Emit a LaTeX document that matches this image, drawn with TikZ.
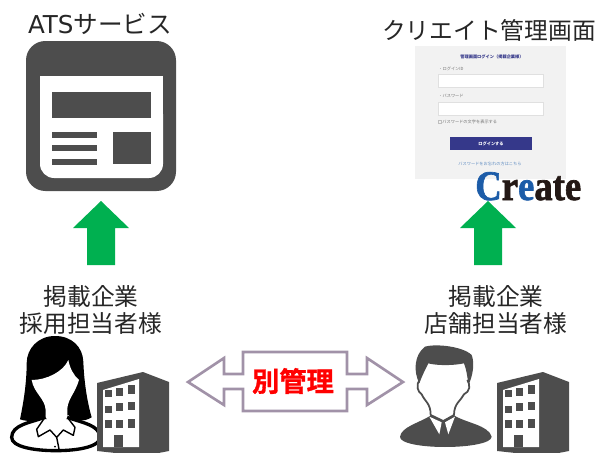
\documentclass[tikz,border=0pt]{standalone}
\usepackage{fontspec}
\setmainfont{Noto Sans CJK JP}
\newfontfamily\latinfont{DejaVu Sans}
\newfontfamily\logofont[UprightFont=* Bold, FakeBold=1.6]{Liberation Serif}
\newfontfamily\heavyfont[UprightFont=* Bold, FakeBold=1.2]{Noto Sans CJK JP}
\usepackage{tikz}
\definecolor{icongray}{HTML}{4D4D4D}
\definecolor{arrowgreen}{HTML}{00B050}
\definecolor{outlinegray}{HTML}{A192A8}
\definecolor{panelgray}{HTML}{F2F2F2}
\definecolor{loginblue}{HTML}{35388A}
\definecolor{logoblue}{HTML}{1C5CA8}
\definecolor{logodark}{HTML}{231815}
\newcommand{\tinysize}[1]{\fontsize{#1}{#1}\selectfont}
\tikzset{
  labeltext/.style={font=\fontsize{13.5}{16}\selectfont, text=black!85, inner sep=0pt},
  logintext/.style={font=\tinysize{2.4}, text=black!55, inner sep=0pt, anchor=west},
  inputbox/.style={draw=black!12, line width=0.5pt, fill=white},
  bigarrow/.style={fill=arrowgreen, draw=none},
  building/.pic={
    \fill[icongray] (97,383) -- (143,372) -- (169,382) -- (169,451) -- (143,456) -- (97,451) -- cycle;
    \fill[white] (103,390) -- (139,379) -- (139,447) -- (103,447) -- cycle;
    \foreach \wx/\wy/\wh in {105/390/7, 116/388/8, 128/385/9, 105/406/7, 116/403/8, 128/402/8, 105/420/8, 116/420/8, 128/419/9}
      \fill[icongray] (\wx,\wy) rectangle ++(6.5,\wh);
    \fill[icongray] (114,435) rectangle (123,447);
  }
}
\begin{document}
\begin{tikzpicture}[x=0.02cm, y=-0.02cm]
  \useasboundingbox (0,0) rectangle (599,453);

  \node[labeltext, font=\fontsize{14}{16}\selectfont] (atslabel) at (100,24) {{\latinfont ATS}サービス};
  \node[labeltext] (createlabel) at (489,30) {クリエイト管理画面};
  \node[labeltext, align=center] (leftlabel) at (91,310) {掲載企業\\[-1pt]採用担当者様};
  \node[labeltext, align=center] (rightlabel) at (496,310) {掲載企業\\[-1pt]店舗担当者様};

  \begin{scope}
    \fill[icongray, rounded corners=11pt] (26,41) rectangle (176,191);
    \fill[white, rounded corners=8pt] (40,100) -- (40,178) -- (163,178) -- (163,100) -- cycle;
    \fill[white] (40,76) rectangle (163,120);
    \fill[icongray] (52,92) rectangle (151,118);
    \foreach \ly in {132,145,159}
      \fill[icongray] (52,\ly) rectangle (97,\ly+5.5);
    \fill[icongray] (113,132) rectangle (151,164);
  \end{scope}

  \begin{scope}
    \fill[panelgray] (415,46) rectangle (566,179);
    \node[logintext, anchor=center, text=loginblue] (logintitle) at (492,57) {\bfseries 管理画面ログイン（掲載企業様）};
    \node[logintext] (loginid) at (438,69) {・ログインID};
    \draw[inputbox] (438,74) rectangle (543,87);
    \node[logintext] (loginpass) at (438,96) {・パスワード};
    \draw[inputbox] (438,102) rectangle (543,115);
    \draw[black!25, line width=0.2pt] (438,120) rectangle (441,123);
    \node[logintext] (loginshow) at (442,121.5) {パスワードの文字を表示する};
    \fill[loginblue] (450,137) rectangle (532,150);
    \node[logintext, anchor=center, text=white] (loginbtn) at (491,143.5) {\bfseries ログインする};
    \node[logintext, anchor=center, text=logoblue!70] (loginlink) at (490,164) {パスワードをお忘れの方はこちら};
  \end{scope}

  \foreach \ax in {101,488}
    \fill[bigarrow] (\ax,201) -- (\ax+28,228) -- (\ax+14,228) -- (\ax+14,265) -- (\ax-14,265) -- (\ax-14,228) -- (\ax-28,228) -- cycle;

  \node[inner sep=0pt, anchor=base west, xscale=0.87, font=\logofont\fontsize{24}{24}\selectfont] (createlogo) at (475,200)
    {\textcolor{logoblue}{C}\textcolor{logodark}{r}\textcolor{logoblue}{e}\textcolor{logodark}{ate}};

  \draw[outlinegray, line width=1.5pt, fill=white, line join=miter]
    (188,382) -- (224,358) -- (224,374) -- (243,374) -- (243,352) -- (347,352) -- (347,374) -- (367,374)
    -- (367,358) -- (403,382) -- (367,405) -- (367,389) -- (347,389) -- (347,411) -- (243,411) -- (243,389)
    -- (224,389) -- (224,405) -- cycle;
  \node[inner sep=0pt, text=red, font=\heavyfont\fontsize{15.5}{16}\selectfont] (separate) at (293,381) {別管理};

  \begin{scope}[shift={(10,330)}, scale=1/3]
    \fill[black] (135,18) .. controls (85,18) and (50,55) .. (50,100) .. controls (50,160) and (40,220) .. (30,268)
      .. controls (60,278) and (90,272) .. (110,255) -- (175,255) .. controls (190,272) and (220,278) .. (245,262)
      .. controls (230,210) and (222,150) .. (220,95) .. controls (218,50) and (185,18) .. (135,18) -- cycle;
    \draw[black, line width=1.9pt, fill=white] (105,262) .. controls (60,278) and (5,285) .. (5,322)
      .. controls (5,350) and (70,362) .. (138,362) .. controls (205,362) and (270,350) .. (270,322)
      .. controls (270,285) and (215,278) .. (172,262) -- cycle;
    \fill[white] (175,90) .. controls (160,125) and (110,150) .. (65,150) .. controls (72,190) and (105,205) .. (107,240)
      -- (107,262) -- (140,312) -- (172,262) -- (172,235) .. controls (175,205) and (195,190) .. (207,150)
      .. controls (190,135) and (180,115) .. (175,90) -- cycle;
    \draw[black, line width=0.8pt, line join=round] (105,262) -- (80,298) -- (85,320) -- (120,300) -- (140,322) -- (160,300) -- (190,316) -- (195,292) -- (172,262);
    \draw[black, line width=0.8pt] (140,322) -- (148,362);
    \fill[black] (135,350) circle[radius=3];
  \end{scope}

  \begin{scope}[shift={(390,335)}, scale=1/3]
    \fill[icongray] (30,305) .. controls (35,275) and (85,265) .. (125,240) -- (190,240) .. controls (230,265) and (295,270) .. (305,305)
      .. controls (305,325) and (235,336) .. (165,336) .. controls (95,336) and (28,325) .. (30,305) -- cycle;
    \draw[icongray, line width=1pt, fill=white, line join=round] (88,135) .. controls (78,150) and (82,170) .. (95,178)
      .. controls (105,200) and (122,205) .. (122,240) -- (160,258) -- (192,240) .. controls (192,205) and (212,198) .. (222,178)
      .. controls (240,170) and (242,150) .. (232,135);
    \fill[white] (118,245) -- (155,262) -- (148,298) -- cycle;
    \fill[white] (195,245) -- (165,262) -- (175,298) -- cycle;
    \fill[icongray] (88,145) .. controls (70,110) and (72,60) .. (105,35) .. controls (140,25) and (220,35) .. (245,60)
      .. controls (255,85) and (248,125) .. (235,150) .. controls (232,120) and (228,100) .. (222,85)
      .. controls (190,92) and (140,92) .. (115,85) .. controls (105,105) and (95,125) .. (88,145) -- cycle;
  \end{scope}

  \pic at (0,0) {building};
  \pic at (400,0) {building};
\end{tikzpicture}
\end{document}
